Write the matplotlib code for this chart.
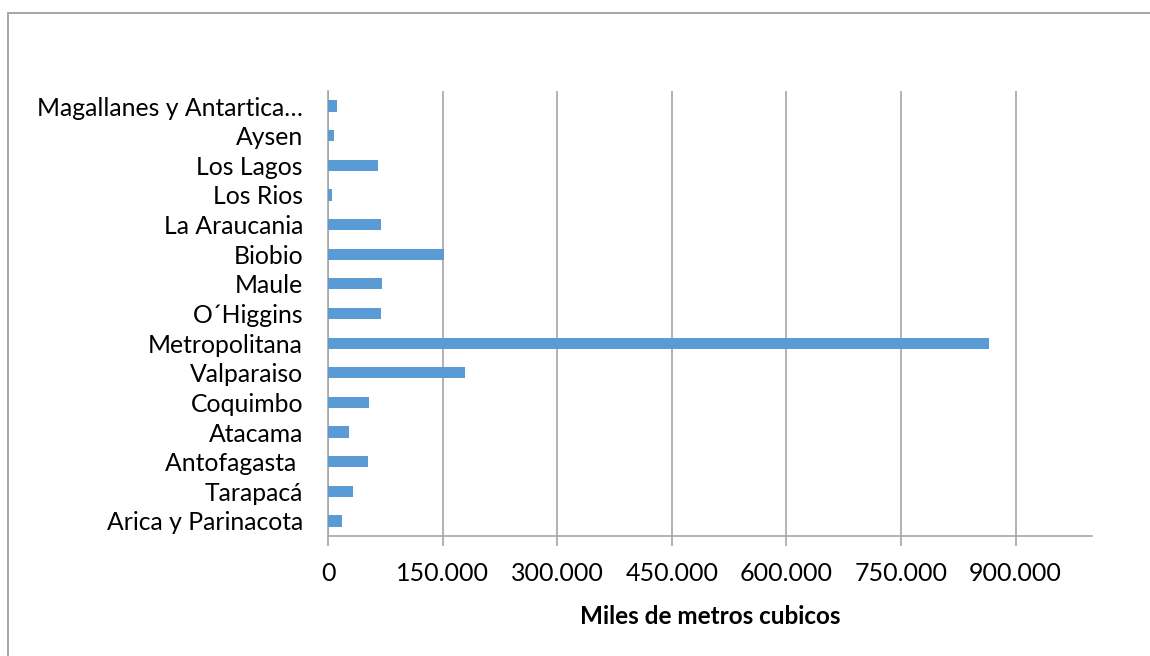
import matplotlib
matplotlib.use("Agg")
import matplotlib.pyplot as plt
from matplotlib.patches import Rectangle
from matplotlib.ticker import FuncFormatter

regiones = [
    "Arica y Parinacota", "Tarapacá", "Antofagasta ", "Atacama", "Coquimbo",
    "Valparaiso", "Metropolitana", "O´Higgins", "Maule", "Biobio",
    "La Araucania", "Los Rios", "Los Lagos", "Aysen", "Magallanes y Antartica…",
]
volumen = [
    18400, 32800, 52400, 27100, 53800,
    179600, 865000, 70000, 71300, 151700,
    70000, 5800, 65500, 8400, 11800,
]
x_ticks = [0, 150000, 300000, 450000, 600000, 750000, 900000]
x_label = "Miles de metros cubicos"

plt.rcParams["font.family"] = ["Lato", "DejaVu Sans"]

fig = plt.figure(figsize=(11.5, 6.56), dpi=100)
# chart frame: only its top and left edges fall inside the image
fig.patches.append(Rectangle((7.5 / 1150, -0.05), 1.1, 1.05 - 13.5 / 656,
                             transform=fig.transFigure, fill=False,
                             edgecolor="#A6A6A6", linewidth=1.4))

ax = fig.add_axes([328 / 1150, 1 - 535.8 / 656, (1092 - 328) / 1150, (535.8 - 91.2) / 656])
y = range(len(regiones))
ax.barh(list(y), volumen, height=0.38, color="#5B9BD5", zorder=3)

ax.set_xlim(0, 1000000)
ax.set_ylim(-0.5, len(regiones) - 0.5)
ax.set_xticks(x_ticks)
ax.xaxis.set_major_formatter(FuncFormatter(lambda v, p: f"{int(v):,}".replace(",", ".")))
ax.set_yticks(list(y))
ax.set_yticklabels(regiones)

ax.grid(axis="x", color="#A6A6A6", linewidth=1.2, zorder=0)
for s in ["top", "right"]:
    ax.spines[s].set_visible(False)
for s in ["left", "bottom"]:
    ax.spines[s].set_color("#A6A6A6")
    ax.spines[s].set_linewidth(1.2)

ax.tick_params(axis="x", length=7, width=1.2, color="#A6A6A6", pad=12,
               labelsize=18, labelcolor="#000000")
ax.tick_params(axis="y", length=0, pad=18, labelsize=17.8, labelcolor="#000000")

ax.set_xlabel(x_label, fontsize=17.5, fontweight="bold", labelpad=14)

fig.savefig("out.png", dpi=100)
